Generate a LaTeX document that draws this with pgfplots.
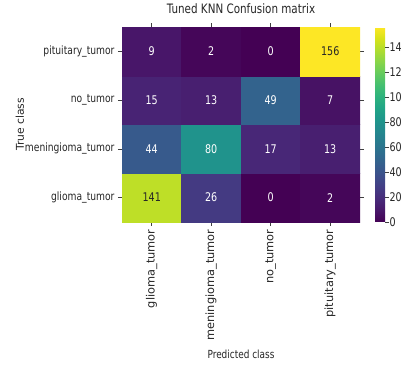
\documentclass[border=0pt]{standalone}
\usepackage{fontspec}
\setmainfont{DejaVu Sans}[FakeStretch=0.8]
\newfontfamily\hfont{DejaVu Sans}[FakeStretch=0.8]
\newfontfamily\vfont{DejaVu Sans}
\usepackage{pgfplots}
\usepackage{pgfplotstable}
\pgfplotsset{compat=1.18}
\pgfplotsset{/pgf/number format/assume math mode=true}

% confusion matrix: x = predicted class, y = true class
\pgfplotstableread{
x y c
0 0 141
1 0 26
2 0 0
3 0 2
0 1 44
1 1 80
2 1 17
3 1 13
0 2 15
1 2 13
2 2 49
3 2 7
0 3 9
1 3 2
2 3 0
3 3 156
}\cmdata

\begin{document}
\begin{tikzpicture}[x=1bp,y=1bp]
\path[use as bounding box] (0,0) rectangle (401,365);
\begin{axis}[
  at={(122bp,143bp)}, anchor=south west,
  scale only axis, width=238bp, height=195bp,
  xmin=-0.5, xmax=3.5, ymin=-0.5, ymax=3.5,
  axis line style={draw=none},
  tick align=outside, major tick length=4bp,
  tick style={black!75, line width=0.6pt},
  xtick={0,1,2,3}, ytick={0,1,2,3},
  xticklabels={glioma\_tumor, meningioma\_tumor, no\_tumor, pituitary\_tumor},
  yticklabels={glioma\_tumor, meningioma\_tumor, no\_tumor, pituitary\_tumor},
  x tick label style={rotate=90, anchor=east, font=\vfont\fontsize{11.4}{13}\selectfont, text=black!85},
  y tick label style={font=\hfont\fontsize{11.5}{13}\selectfont, text=black!85},
  title={Tuned KNN Confusion matrix},
  title style={font=\hfont\fontsize{13}{14}\selectfont, text=black!85,
    at={(axis description cs:0.5,1.062)}, anchor=center},
  xlabel={Predicted class},
  xlabel style={font=\hfont\fontsize{11.2}{12}\selectfont, text=black!85,
    at={(axis description cs:0.5,-0.677)}, anchor=center},
  ylabel={True class},
  ylabel style={font=\vfont\fontsize{10.8}{12}\selectfont, text=black!85,
    at={(axis description cs:-0.429,0.5)}, anchor=center},
  colormap name=viridis,
  point meta min=0, point meta max=156,
  colorbar,
  colorbar style={
    width=10bp,
    at={(parent axis.north east)}, anchor=north west, xshift=6.5bp,
    ytick={0,20,...,140},
    axis line style={draw=none},
    tick align=outside, major tick length=4bp, ytick pos=right,
    tick style={black!75, line width=0.6pt},
    yticklabel pos=right,
    yticklabel style={font=\hfont\fontsize{12}{13}\selectfont, text=black!85, xshift=-3bp},
  },
]
\addplot[matrix plot*, mesh/cols=4, point meta=explicit] table[x=x, y=y, meta=c] {\cmdata};

% cell annotations: light text on dark cells
\addplot[draw=none, point meta=explicit symbolic,
  nodes near coords, nodes near coords align=center,
  every node near coord/.append style={text=white, font=\hfont\fontsize{12}{13}\selectfont}]
  table[x=x, y=y, meta=c] {
x y c
1 0 26
2 0 0
3 0 2
0 1 44
1 1 80
2 1 17
3 1 13
0 2 15
1 2 13
2 2 49
3 2 7
0 3 9
1 3 2
2 3 0
};
% dark text on bright cells
\addplot[draw=none, point meta=explicit symbolic,
  nodes near coords, nodes near coords align=center,
  every node near coord/.append style={text=black!85, font=\hfont\fontsize{12}{13}\selectfont}]
  table[x=x, y=y, meta=c] {
x y c
0 0 141
3 3 156
};
\end{axis}
\end{tikzpicture}
\end{document}
